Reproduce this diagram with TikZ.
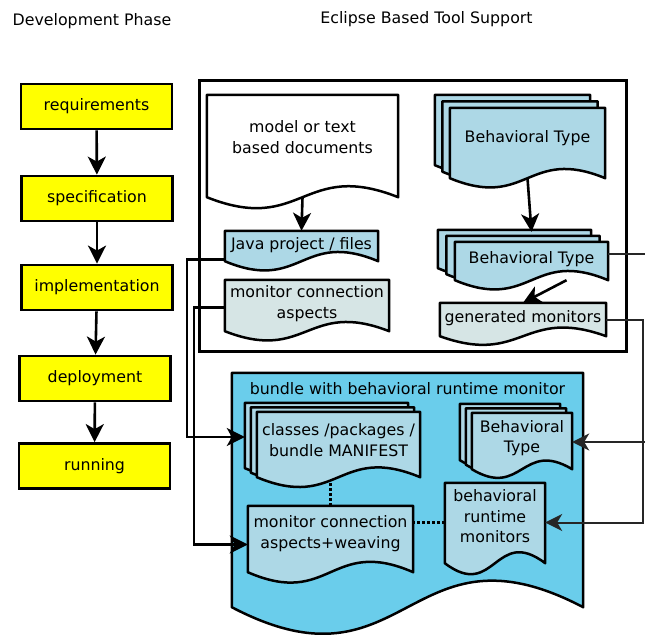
\documentclass[tikz,border=0pt]{standalone}
\usepackage{fontspec}
\setmainfont{DejaVu Sans}
\usetikzlibrary{arrows.meta, positioning, backgrounds}

\definecolor{phaseyellow}{RGB}{255,255,0}
\definecolor{filelight}{RGB}{173,216,230}
\definecolor{aspectgrey}{RGB}{214,229,229}
\definecolor{bundleblue}{RGB}{106,205,235}

% document outline around a node: flat top, wavy bottom
% #1 node, #2 extra side length, #3 wave height, #4 shift
\newcommand{\docpath}[4]{%
  ([#4]#1.north west) -- ([#4]#1.north east) -- ([#4,yshift=-#2]#1.south east)
  .. controls ([#4,yshift=-#2+#3]#1.south) and ([#4,yshift=-#2-#3]#1.south)
  .. ([#4,yshift=-#2]#1.south west) -- cycle}
\newcommand{\drawdoc}[5][xshift=0pt]{%
  \path[docline, fill=#2] \docpath{#3}{#4}{#5}{#1};}
% three sheets on top of each other
\newcommand{\drawstack}[6]{%
  \drawdoc[xshift=-2*#5, yshift=2*#6]{#1}{#2}{#3}{#4}%
  \drawdoc[xshift=-#5, yshift=#6]{#1}{#2}{#3}{#4}%
  \drawdoc{#1}{#2}{#3}{#4}}

\begin{document}
\begin{tikzpicture}[x=1pt, y=-1pt,
    every node/.style={font=\fontsize{15.8}{20.5}\selectfont},
    phase/.style={draw, fill=phaseyellow, line width=2.8pt, minimum width=151, minimum height=45},
    docnode/.style={align=center, inner sep=0pt},
    docline/.style={draw, line width=2.5pt, line join=round},
    flow/.style={-{Stealth[length=18pt, width=18pt, inset=5pt]}, line width=2.6pt},
    sideflow/.style={-{Stealth[length=17pt, width=17pt, inset=5pt]}, line width=2pt, draw=black!85},
    dotline/.style={line width=2.8pt, dash pattern=on 2.8pt off 2.2pt}]
  \useasboundingbox (0,0) rectangle (645,635);

  \node (devhead) at (92,21) {Development Phase};
  \node (toolhead) at (426.5,19) {Eclipse Based Tool Support};

  % phases
  \node[phase] (req) at (96.5,106.5) {requirements};
  \node[phase] (spec) at (97,198.5) {specification};
  \node[phase] (impl) at (97,287.5) {implementation};
  \node[phase] (deploy) at (95,378.5) {deployment};
  \node[phase] (run) at (94.5,466) {running};
  \draw[flow] (req) -- (spec);
  \draw[flow] (spec) -- (impl);
  \draw[flow] (impl) -- (deploy);
  \draw[flow] (deploy) -- (run);

  % eclipse side
  \node[draw, line width=2.5pt, minimum width=427, minimum height=271] (tools) at (413,216) {};
  \node[docnode, minimum width=191, minimum height=84] (modeldoc) at (302.5,137) {model or text\\based documents};
  \node[docnode, minimum width=153, minimum height=28] (javafiles) at (301.5,245) {Java project / files};
  \node[docnode, minimum width=164, minimum height=47] (monaspects) at (307,303.5) {monitor connection\\aspects};
  \node[docnode, minimum width=155, minimum height=60] (btmodel) at (527.5,138) {Behavioral Type};
  \node[docnode, minimum width=153, minimum height=34] (btcode) at (531.5,259) {Behavioral Type};
  \node[docnode, minimum width=166, minimum height=30] (genmon) at (523,318) {generated monitors};

  % runtime bundle
  \node[minimum width=351, minimum height=234, inner sep=0pt] (bundle) at (407.5,490) {};
  \node (bundletitle) at (407.5,389) {bundle with behavioral runtime monitor};
  \node[docnode, minimum width=163, minimum height=56] (classes) at (338.5,440) {classes /packages /\\bundle MANIFEST};
  \node[docnode, minimum width=165, minimum height=55] (weaving) at (330.5,533.5) {monitor connection\\aspects+weaving};
  \node[docnode, minimum width=100, minimum height=50] (btbundle) at (522,438) {Behavioral\\Type};
  \node[docnode, minimum width=100, minimum height=67] (rtmon) at (495,516.5) {behavioral\\runtime\\monitors};

  \begin{scope}[on background layer]
    \drawdoc{bundleblue}{bundle}{0}{92}
    \drawdoc{white}{modeldoc}{18}{38}
    \drawdoc{filelight}{javafiles}{2}{32}
    \drawdoc{aspectgrey}{monaspects}{4}{32}
    \drawstack{filelight}{btmodel}{10}{32}{7.5}{6.5}
    \drawstack{filelight}{btcode}{4}{32}{8.5}{6}
    \drawdoc{aspectgrey}{genmon}{3}{30}
    \drawstack{filelight}{classes}{9}{34}{6}{4.5}
    \drawdoc{filelight}{weaving}{11}{36}
    \drawstack{filelight}{btbundle}{6}{30}{6}{4.5}
    \drawdoc{filelight}{rtmon}{13}{38}
  \end{scope}

  \coordinate (modeldocw) at ([yshift=-18pt]modeldoc.south);
  \coordinate (btmodelw) at ([yshift=-10pt]btmodel.south);
  \coordinate (btcodew) at ([yshift=-4pt]btcode.south);
  \coordinate (rtin) at ([yshift=-6pt]rtmon.west);

  \draw[flow] (modeldocw) -- (javafiles.north);
  \draw[flow] (btmodelw) -- ([yshift=10pt]btcode.north);
  \draw[flow] ([xshift=35pt]btcodew) -- (genmon.north);

  \draw[flow] (javafiles.south west) -- ++(-38,0) |- ([xshift=-12pt, yshift=3pt]classes.west);
  \draw[flow] ([yshift=-4pt]monaspects.west) -- ++(-31,0) |- ([yshift=-11pt]weaving.west);
  \draw[sideflow] ([yshift=5pt]btcode.east) -- ++(38,0) |- ([yshift=-4pt]btbundle.east);
  \draw[sideflow] ([yshift=-2pt]genmon.east) -- ++(37,0) |- (rtmon.east |- rtin);

  \draw[dotline] (weaving.north) -- ++(0,-24);
  \draw[dotline] (rtin) -- (rtin -| weaving.east);
\end{tikzpicture}
\end{document}
